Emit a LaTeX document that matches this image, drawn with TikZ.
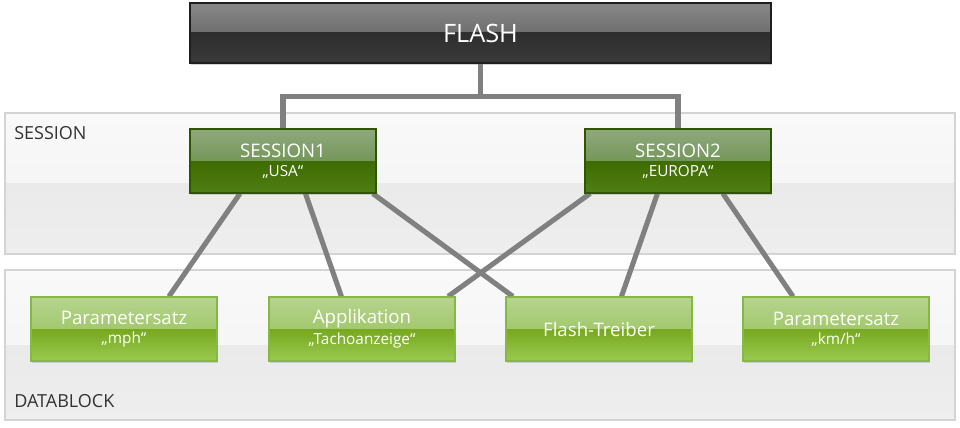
\documentclass[tikz,border=0pt]{standalone}
\usepackage{fontspec}
\setmainfont{Open Sans}
\usetikzlibrary{calc,shadows}
\definecolor{fla}{HTML}{888888}
\definecolor{flb}{HTML}{555555}
\definecolor{flc}{HTML}{2E2E2E}
\definecolor{fld}{HTML}{3A3A3A}
\definecolor{fle}{HTML}{1E1E1E}
\definecolor{dga}{HTML}{8FA97E}
\definecolor{dgb}{HTML}{5A8434}
\definecolor{dgc}{HTML}{3F6C00}
\definecolor{dgd}{HTML}{4F7E16}
\definecolor{dge}{HTML}{2F5500}
\definecolor{lga}{HTML}{B6D48F}
\definecolor{lgb}{HTML}{8FBD4C}
\definecolor{lgc}{HTML}{77A81E}
\definecolor{lgd}{HTML}{9BCA52}
\definecolor{lge}{HTML}{86B846}
\definecolor{pna}{HTML}{F9F9F9}
\definecolor{pnb}{HTML}{F2F2F2}
\definecolor{pnc}{HTML}{EAEAEA}
\definecolor{pnd}{HTML}{EEEEEE}
\definecolor{pne}{HTML}{D4D4D4}
\definecolor{conn}{HTML}{808080}
\definecolor{lbl}{HTML}{333333}
\pgfdeclarelayer{panels}
\pgfdeclarelayer{lines}
\pgfsetlayers{panels,lines,main}
\tikzset{
  glossy/.style n args={5}{draw=#5, line width=0.8pt,
    path picture={
      \fill[top color=#1, bottom color=#2] (path picture bounding box.north west) rectangle (path picture bounding box.east);
      \fill[top color=#3, bottom color=#4] (path picture bounding box.west) rectangle (path picture bounding box.south east);
    }},
  flashbox/.style={glossy={fla}{flb}{flc}{fld}{fle}, minimum width=435.75pt, minimum height=45pt,
    text=white, font=\fontsize{19}{22}\selectfont, inner sep=0pt,
    drop shadow={opacity=0.35, shadow xshift=1pt, shadow yshift=-1.2pt}},
  sessbox/.style={glossy={dga}{dgb}{dgc}{dgd}{dge}, minimum width=139.5pt, minimum height=48pt,
    text=white, align=center, inner sep=0pt,
    drop shadow={opacity=0.3, shadow xshift=1pt, shadow yshift=-1.2pt}},
  datbox/.style={glossy={lga}{lgb}{lgc}{lgd}{lge}, minimum width=139.5pt, minimum height=48pt,
    text=white, align=center, inner sep=0pt,
    drop shadow={opacity=0.3, shadow xshift=1pt, shadow yshift=-1.2pt}},
  panel/.style={glossy={pna}{pnb}{pnc}{pnd}{pne}, minimum width=712.5pt, inner sep=0pt,
    drop shadow={opacity=0.2, shadow xshift=1pt, shadow yshift=-1pt}},
  panellabel/.style={text=lbl, font=\fontsize{13.5}{15}\selectfont, anchor=west, inner sep=0pt},
  connector/.style={draw=conn, line width=3.8pt},
}
\newcommand{\mainline}[1]{{\fontsize{14}{16}\selectfont #1}}
\newcommand{\subline}[1]{{\fontsize{11.5}{13}\selectfont #1}}
\begin{document}
\begin{tikzpicture}[x=0.75pt,y=-0.75pt]
\useasboundingbox (0,0) rectangle (960,428);
% panels
\begin{pgfonlayer}{panels}
\node[panel, minimum height=105.75pt] (sesspanel) at (480,183.5) {};
\node[panel, minimum height=112.5pt] (datapanel) at (480,345) {};
\end{pgfonlayer}
\node[panellabel] (sesslabel) at (14,133) {SESSION};
\node[panellabel] (datalabel) at (14,401) {DATABLOCK};
% nodes
\node[flashbox] (flash) at (480.5,33) {FLASH};
\node[sessbox] (s1) at (283,161) {\mainline{SESSION1}\\[2.5pt]\subline{„USA“}};
\node[sessbox] (s2) at (678,161) {\mainline{SESSION2}\\[2.5pt]\subline{„EUROPA“}};
\node[datbox] (p1) at (124,329) {\mainline{Parametersatz}\\[2.5pt]\subline{„mph“}};
\node[datbox] (app) at (362,329) {\mainline{Applikation}\\[2.5pt]\subline{„Tachoanzeige“}};
\node[datbox] (ft) at (599,329) {\mainline{Flash-Treiber}};
\node[datbox] (p2) at (836,329) {\mainline{Parametersatz}\\[2.5pt]\subline{„km/h“}};
% connectors
\begin{pgfonlayer}{lines}
\draw[connector] (flash.south) -- ++(0,33) -| (s1.north);
\draw[connector] (flash.south) -- ++(0,33) -| (s2.north);
\draw[connector] ($(s1.south west)!0.27!(s1.south east)$) -- ($(p1.north west)!0.74!(p1.north east)$);
\draw[connector] ($(s1.south west)!0.62!(s1.south east)$) -- ($(app.north west)!0.39!(app.north east)$);
\draw[connector] ($(s1.south west)!0.98!(s1.south east)$) -- ($(ft.north west)!0.04!(ft.north east)$);
\draw[connector] ($(s2.south west)!0.03!(s2.south east)$) -- ($(app.north west)!0.96!(app.north east)$);
\draw[connector] ($(s2.south west)!0.39!(s2.south east)$) -- ($(ft.north west)!0.62!(ft.north east)$);
\draw[connector] ($(s2.south west)!0.74!(s2.south east)$) -- ($(p2.north west)!0.27!(p2.north east)$);
\end{pgfonlayer}
\end{tikzpicture}
\end{document}
